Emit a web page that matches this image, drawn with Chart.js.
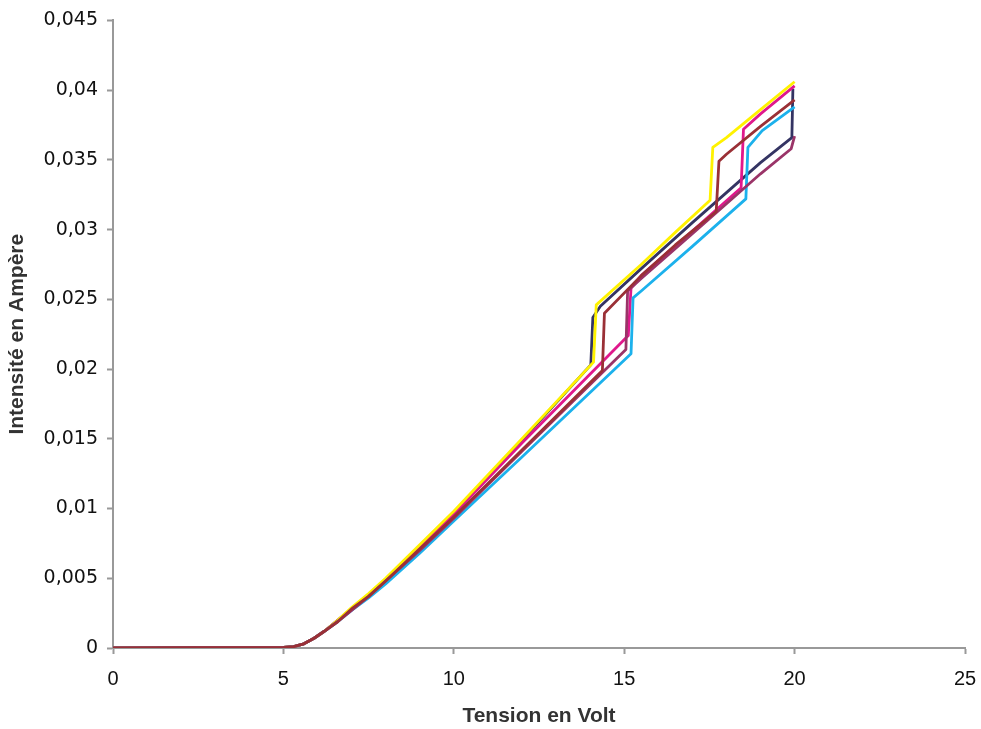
<!DOCTYPE html>
<html lang="fr">
<head>
  <meta charset="UTF-8">
  <title>Intensité en fonction de la tension</title>
  <style>
    html, body { margin: 0; padding: 0; background: #fff; }
    #graphique { display: block; }
  </style>
</head>
<body>
  <canvas id="graphique" width="981" height="729"></canvas>

  <script src="https://cdn.jsdelivr.net/npm/chart.js"></script>
  <script>
    // Tension (V) et intensité (A) lues sur chaque courbe
    const tensionJaune = [0, 5, 5.3, 5.6, 5.9, 6.2, 6.6, 7, 7.5, 8, 9, 10, 12, 14.1, 14.18, 15.5, 16.5, 17.52, 17.6, 18, 19, 20];
    const intensiteJaune = [0, 0.00005, 0.0001, 0.0003, 0.0007, 0.0012, 0.002, 0.0029, 0.0039, 0.005, 0.0074, 0.0098, 0.015, 0.0205, 0.0246, 0.0275, 0.0298, 0.0321, 0.0359, 0.0366, 0.0386, 0.0406];

    const tensionMarine = [0, 5, 5.3, 5.6, 5.9, 6.2, 6.6, 7, 7.5, 8, 9, 10, 12, 14.02, 14.08, 14.3, 15.5, 17, 19, 19.92, 19.95];
    const intensiteMarine = [0, 0.00005, 0.0001, 0.0003, 0.0007, 0.0012, 0.002, 0.0028, 0.0038, 0.0049, 0.0072, 0.0096, 0.0149, 0.0203, 0.0237, 0.0245, 0.0272, 0.0305, 0.0348, 0.0366, 0.0401];

    const tensionBordeaux = [0, 5, 5.3, 5.6, 5.9, 6.2, 6.6, 7, 7.5, 8, 9, 10, 12, 14.36, 14.42, 15.5, 16.5, 17.7, 17.78, 18, 19, 20];
    const intensiteBordeaux = [0, 0.00005, 0.0001, 0.0003, 0.0007, 0.0012, 0.0019, 0.0028, 0.0037, 0.0048, 0.0071, 0.0094, 0.0142, 0.0199, 0.024, 0.0267, 0.0289, 0.0313, 0.0349, 0.0354, 0.0374, 0.0393];

    const tensionMagenta = [0, 5, 5.3, 5.6, 5.9, 6.2, 6.6, 7, 7.5, 8, 9, 10, 12, 15.12, 15.2, 15.5, 17, 18.43, 18.5, 19, 20];
    const intensiteMagenta = [0, 0.00005, 0.0001, 0.0003, 0.0007, 0.0012, 0.002, 0.0028, 0.0038, 0.0049, 0.0072, 0.0096, 0.0147, 0.0224, 0.0258, 0.0267, 0.0299, 0.033, 0.0372, 0.0383, 0.0403];

    const tensionPrune = [0, 5, 5.3, 5.6, 5.9, 6.2, 6.6, 7, 7.5, 8, 9, 10, 12, 15.05, 15.1, 15.5, 17, 19, 19.9, 20];
    const intensitePrune = [0, 0.00005, 0.0001, 0.0003, 0.0007, 0.0012, 0.0019, 0.0027, 0.0037, 0.0048, 0.007, 0.0093, 0.0141, 0.0214, 0.0256, 0.0265, 0.0297, 0.034, 0.0358, 0.0367];

    const tensionCyan = [0, 5, 5.3, 5.6, 5.9, 6.2, 6.6, 7, 7.5, 8, 9, 10, 12, 15.2, 15.26, 15.5, 17, 18.57, 18.63, 19.05, 20];
    const intensiteCyan = [0, 0.00005, 0.0001, 0.0003, 0.0007, 0.0012, 0.0019, 0.0027, 0.0036, 0.0046, 0.0068, 0.0091, 0.0137, 0.0211, 0.0251, 0.0256, 0.0288, 0.0322, 0.0359, 0.0371, 0.0388];

    const ticksX = [0, 5, 10, 15, 20, 25];
    const ticksY = [0, 0.005, 0.01, 0.015, 0.02, 0.025, 0.03, 0.035, 0.04, 0.045];

    function points(xs, ys) {
      return xs.map((x, i) => ({ x: x, y: ys[i] }));
    }

    function serie(nom, xs, ys, couleur, ordre) {
      return {
        label: nom,
        data: points(xs, ys),
        borderColor: couleur,
        borderWidth: 2.8,
        borderJoinStyle: 'round',
        pointRadius: 0,
        fill: false,
        tension: 0,
        order: ordre
      };
    }

    const gris = '#999999';

    window.onload = function() {
      const ctx = document.getElementById('graphique').getContext('2d');

      new Chart(ctx, {
        type: 'line',
        data: {
          datasets: [
            serie('Série 1', tensionMarine, intensiteMarine, '#343463', 5),
            serie('Série 2', tensionMagenta, intensiteMagenta, '#e0188c', 4),
            serie('Série 3', tensionJaune, intensiteJaune, '#fff200', 3),
            serie('Série 4', tensionCyan, intensiteCyan, '#1cb1ec', 2),
            serie('Série 5', tensionPrune, intensitePrune, '#9a3468', 1),
            serie('Série 6', tensionBordeaux, intensiteBordeaux, '#9a3036', 0)
          ]
        },
        options: {
          responsive: false,
          animation: false,
          layout: { padding: { top: 18, right: 16, left: 0, bottom: 0 } },
          plugins: {
            legend: { display: false },
            tooltip: { enabled: false }
          },
          scales: {
            x: {
              type: 'linear',
              min: 0,
              max: 25,
              afterBuildTicks: axis => { axis.ticks = ticksX.map(v => ({ value: v })); },
              afterFit: axis => {
                axis.height = 81;
                axis.paddingLeft = 0;
                axis.paddingRight = 0;
              },
              grid: { drawOnChartArea: false, color: gris, tickLength: 6, tickWidth: 2 },
              border: { color: gris, width: 2 },
              ticks: {
                color: '#111',
                padding: 13,
                maxRotation: 0,
                font: { family: 'Liberation Sans, Arial, sans-serif', size: 20 }
              },
              title: {
                display: true,
                text: 'Tension en Volt',
                color: '#333',
                padding: { top: 0, bottom: 0 },
                font: { family: 'Liberation Sans, Arial, sans-serif', size: 21, weight: 'bold' }
              }
            },
            y: {
              min: 0,
              max: 0.045,
              afterBuildTicks: axis => { axis.ticks = ticksY.map(v => ({ value: v })); },
              afterFit: axis => { axis.width = 113; },
              grid: { drawOnChartArea: false, color: gris, tickLength: 6, tickWidth: 2 },
              border: { color: gris, width: 2 },
              ticks: {
                color: '#111',
                padding: 9,
                font: { family: 'DejaVu Sans, sans-serif', size: 19 },
                callback: v => String(Number(v.toFixed(3))).replace('.', ',')
              },
              title: {
                display: true,
                text: 'Intensité en Ampère',
                color: '#333',
                padding: { top: 5, bottom: 0 },
                font: { family: 'Liberation Sans, Arial, sans-serif', size: 21, weight: 'bold' }
              }
            }
          }
        }
      });
    };
  </script>
</body>
</html>
